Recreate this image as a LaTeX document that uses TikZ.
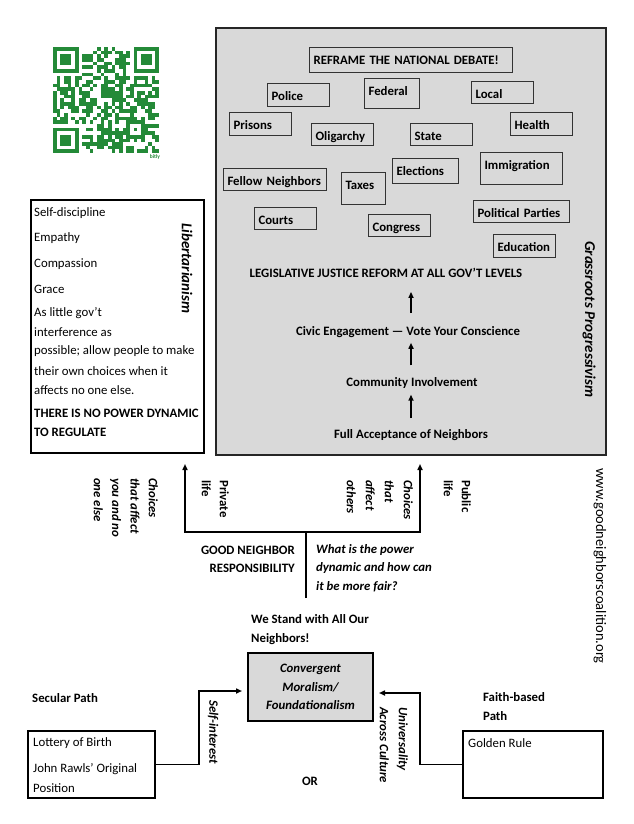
\documentclass[tikz,border=0pt]{standalone}
\usepackage{fontspec}
\setmainfont{Carlito}
\usetikzlibrary{arrows.meta}
\definecolor{boxgray}{RGB}{217,217,217}
\definecolor{qrgreen}{RGB}{36,138,56}
\newcommand\fsz{\fontsize{12.8}{15}\selectfont}
\newcommand\kwb[6]{%
  \pgfmathsetmacro\kwH{#5-#3-17}%
  \pgfmathsetmacro\kwW{#4-#2-8}%
  \node[kw, text width=\kwW pt, text depth=\kwH pt] (#1) at (#2,#3) {\mbox{#6}};}
\tikzset{
  kw/.style={draw=black!80, line width=1.1pt, anchor=north west, inner xsep=4pt, inner ysep=0pt, text height=17pt, align=left, font=\fsz\bfseries},
  lt/.style={anchor=west, inner sep=0pt, font=\fsz},
  ltb/.style={anchor=west, inner sep=0pt, font=\fsz\bfseries},
  ctb/.style={inner sep=0pt, font=\fsz\bfseries},
  vt/.style={rotate=-90, anchor=north west, inner sep=0pt, align=left},
  vs/.style={rotate=-90, anchor=west, inner sep=0pt},
  arr/.style={line width=1.5pt, -{Triangle[length=6pt,width=5pt]}},
  flowarr/.style={line width=1.8pt, -{Triangle[length=6pt,width=5pt]}},
  qrm/.style={fill=qrgreen},
}
\begin{document}
\begin{tikzpicture}[x=1pt,y=-1pt]
\useasboundingbox (0,0) rectangle (634,824);

% ---------- QR code ----------
\def\qm{3.66}
\pgfmathsetseed{7}
\foreach \i in {0,...,28}{\foreach \j in {0,...,28}{%
  \pgfmathtruncatemacro\qrs{(\i<8 && \j<8) || (\i>20 && \j<8) || (\i<8 && \j>20) || (\i>19 && \i<25 && \j>19 && \j<25)}%
  \pgfmathtruncatemacro\qrr{rnd<0.52}%
  \ifnum\qrs=0 \ifnum\qrr=1 \fill[qrm] (53+\i*\qm,47+\j*\qm) rectangle ++(\qm,\qm);\fi\fi
}}
\foreach \fx/\fy in {0/0,22/0,0/22}{%
  \fill[qrm] (53+\fx*\qm,47+\fy*\qm) rectangle ++(7*\qm,7*\qm);
  \fill[white] (53+\fx*\qm+\qm,47+\fy*\qm+\qm) rectangle ++(5*\qm,5*\qm);
  \fill[qrm] (53+\fx*\qm+2*\qm,47+\fy*\qm+2*\qm) rectangle ++(3*\qm,3*\qm);
}
\fill[qrm] (53+20*\qm,47+20*\qm) rectangle ++(5*\qm,5*\qm);
\fill[white] (53+21*\qm,47+21*\qm) rectangle ++(3*\qm,3*\qm);
\fill[qrm] (53+22*\qm,47+22*\qm) rectangle ++(\qm,\qm);
\node[inner sep=0pt, text=qrgreen, font=\fontsize{5.5}{6}\selectfont\bfseries] (bitly) at (155,157) {bitly};

% ---------- Grassroots Progressivism box ----------
\node[draw=black!85, line width=2.5pt, fill=boxgray, minimum width=390pt, minimum height=427pt, inner sep=0pt] (prog) at (411,241.5) {};
\kwb{reframe}{309}{47}{512}{72}{REFRAME THE NATIONAL DEBATE!}
\kwb{police}{267}{83}{329}{106}{Police}
\kwb{federal}{364}{78}{419}{108}{Federal}
\kwb{local}{471}{81}{533}{103}{Local}
\kwb{prisons}{229}{112}{291}{135}{Prisons}
\kwb{oligarchy}{311}{123}{373}{145}{Oligarchy}
\kwb{state}{410}{123}{472}{145}{State}
\kwb{health}{510}{112}{572}{135}{Health}
\kwb{fellow}{223}{168}{326}{190}{Fellow Neighbors}
\kwb{taxes}{341}{172}{385}{204}{Taxes}
\kwb{elections}{392}{158}{458}{183}{Elections}
\kwb{immig}{480}{152}{562}{184}{Immigration}
\kwb{courts}{254}{207}{316}{229}{Courts}
\kwb{congress}{368}{214}{430}{236}{Congress}
\kwb{parties}{473}{200}{569}{222}{Political Parties}
\kwb{educ}{493}{234}{555}{257}{Education}

\node[ctb] (leg) at (386,273) {LEGISLATIVE JUSTICE REFORM AT ALL GOV’T LEVELS};
\node[ctb] (civic) at (408,332) {Civic Engagement — Vote Your Conscience};
\node[ctb] (comm) at (412,383) {Community Involvement};
\node[ctb] (full) at (411,435) {Full Acceptance of Neighbors};
\draw[flowarr, shorten <=11pt, shorten >=6pt] (full.north) -- (full.north |- comm.south);
\draw[flowarr, shorten <=12pt, shorten >=5pt] (full.north |- comm.north) -- (full.north |- civic.south);
\draw[flowarr, shorten <=13pt, shorten >=14pt] (full.north |- civic.north) -- (full.north |- leg.south);
\node[vs, font=\fontsize{15}{18}\selectfont\bfseries\itshape] (gp) at (589,241) {Grassroots Progressivism};

% ---------- Libertarianism box ----------
\node[draw, line width=1.5pt, minimum width=173pt, minimum height=253pt, inner sep=0pt] (lib) at (117.5,326.5) {};
\node[lt] (l1) at (34,213) {Self-discipline};
\node[lt] (l2) at (34,238) {Empathy};
\node[lt] (l3) at (34,264) {Compassion};
\node[lt] (l4) at (34,289) {Grace};
\node[lt] (l5) at (34,313) {As little gov’t};
\node[lt] (l6) at (34,332) {interference as};
\node[lt] (l7) at (34,351) {possible; allow people to make};
\node[lt] (l8) at (34,371) {their own choices when it};
\node[lt] (l9) at (34,390) {affects no one else.};
\node[ltb] (l10) at (34,413) {THERE IS NO POWER DYNAMIC};
\node[ltb] (l11) at (34,432) {TO REGULATE};
\node[vs, font=\fontsize{15}{18}\selectfont\bfseries\itshape] (libt) at (187,223) {Libertarianism};

% ---------- Good neighbor fork ----------
\coordinate (jn) at (306,532);
\coordinate (stem) at (306,598);
\coordinate (tl) at (185,464);
\coordinate (tr) at (420,464);
\draw[line width=1.5pt] (stem) -- (jn);
\draw[arr] (jn) -| (tl);
\draw[arr] (jn) -| (tr);

\node[vt, font=\fontsize{12.8}{18.3}\selectfont\bfseries\itshape] (cyou) at (158,478) {Choices\\that affect\\you and no\\one else};
\node[vt, font=\fontsize{12.8}{18}\selectfont\bfseries] (priv) at (229,480) {Private\\life};
\node[vt, font=\fontsize{12.8}{19}\selectfont\bfseries\itshape] (coth) at (413,480) {Choices\\that\\affect\\others};
\node[vt, font=\fontsize{12.8}{18}\selectfont\bfseries] (pub) at (471,480) {Public\\life};
\node[vs, font=\fontsize{14.5}{17}\selectfont] (url) at (600,468) {www.goodneighborscoalition.org};

\node[anchor=north east, inner sep=0pt, align=right, font=\fontsize{12.8}{18}\selectfont\bfseries] (gn) at (295,546) {GOOD NEIGHBOR\\RESPONSIBILITY};
\node[anchor=north west, inner sep=0pt, align=left, font=\fontsize{12.8}{18.5}\selectfont\bfseries\itshape] (power) at (316,544) {What is the power\\dynamic and how can\\it be more fair?};
\node[anchor=north west, inner sep=0pt, align=left, font=\fontsize{12.8}{19}\selectfont\bfseries] (stand) at (251,614) {We Stand with All Our\\Neighbors!};

% ---------- Bottom paths ----------
\node[draw, line width=2pt, fill=boxgray, minimum width=125pt, minimum height=68pt, inner sep=0pt, align=center, font=\fontsize{12.8}{18.5}\selectfont\bfseries\itshape] (conv) at (310.5,687) {Convergent\\Moralism/\\Foundationalism};

\node[ltb] (secp) at (32,698) {Secular Path};
\node[draw, line width=2pt, minimum width=127pt, minimum height=67pt, inner sep=0pt] (sec) at (91.5,764.5) {};
\node[lt] (s1) at (33,743) {Lottery of Birth};
\node[lt] (s2) at (33,769) {John Rawls’ Original};
\node[lt] (s3) at (33,788) {Position};

\node[anchor=north west, inner sep=0pt, align=left, font=\fontsize{12.8}{19}\selectfont\bfseries] (faithp) at (483,692) {Faith-based\\Path};
\node[draw, line width=2pt, minimum width=140pt, minimum height=67pt, inner sep=0pt] (faith) at (533,764.5) {};
\node[lt] (g1) at (468,743) {Golden Rule};

\draw[arr, shorten >=5pt] (sec.east) -- ++(43,0) |- ([yshift=-4pt]conv.west);
\draw[arr, shorten >=5pt] (faith.west) -- ++(-42,0) |- ([yshift=-6pt]conv.east);

\node[vs, font=\fsz\bfseries\itshape] (si) at (213,700) {Self-interest};
\node[vt, font=\fontsize{12.8}{19}\selectfont\bfseries\itshape] (univ) at (408,707) {Universality\\Across Culture};
\node[ctb] (or) at (310,781) {OR};
\end{tikzpicture}
\end{document}
